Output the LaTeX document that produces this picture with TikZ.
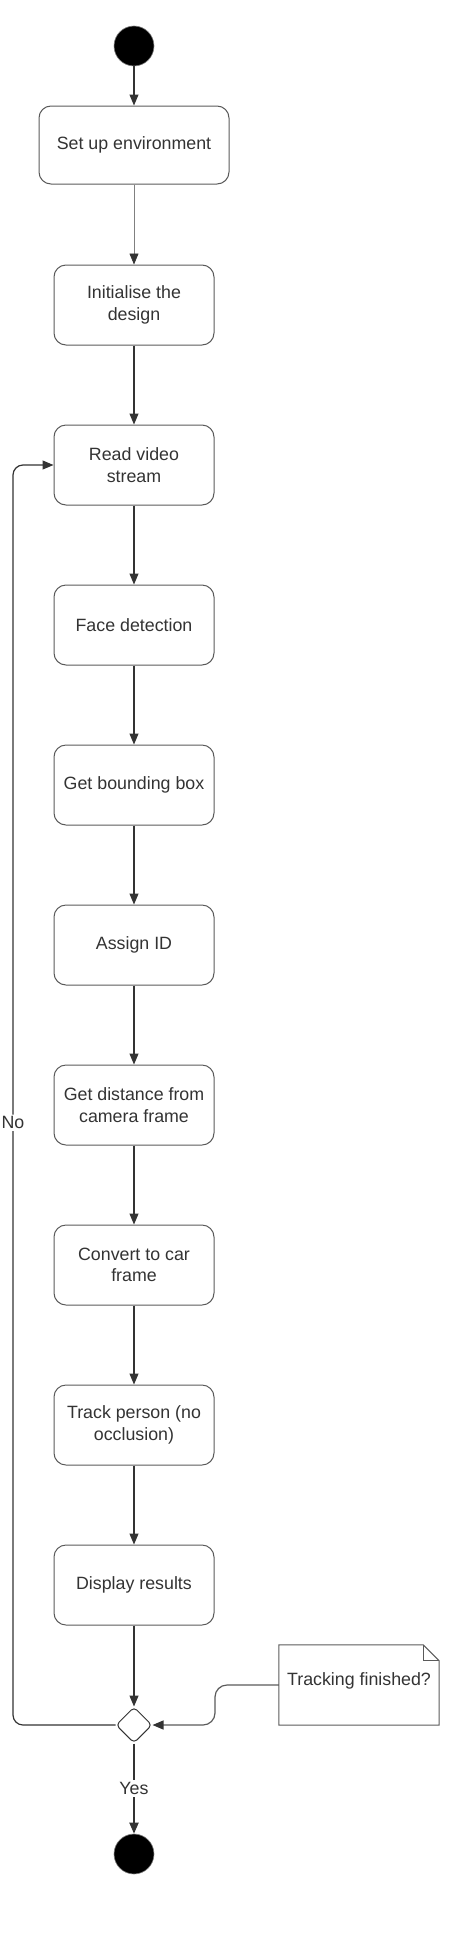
\documentclass[tikz,border=0pt]{standalone}
\usepackage{fontspec}
\setmainfont{Liberation Sans}
\usetikzlibrary{arrows.meta,shapes.geometric}
\definecolor{txt}{HTML}{333333}
\definecolor{ln}{HTML}{333333}
\definecolor{bd}{HTML}{5A5A5A}
\begin{document}
\begin{tikzpicture}[x=1pt,y=-1pt,
  act/.style={draw=bd,line width=1pt,rounded corners=12pt,minimum width=160pt,minimum height=80pt,align=center,text=txt,font=\fontsize{17.8}{21.5}\selectfont,inner sep=2pt},
  blob/.style={circle,fill=black,draw=gray,line width=0.6pt,minimum size=40pt,inner sep=0pt},
  flow/.style={draw=ln,line width=1.2pt,-{Triangle[length=11pt,width=9pt,color=ln]}},
  lbl/.style={fill=white,text=txt,font=\fontsize{17.8}{21.5}\selectfont,inner sep=2pt}
]
\useasboundingbox (0,0) rectangle (475,1938);
\node[blob] (start) at (134,46) {};
\node[act,minimum width=190pt,minimum height=78pt] (s1) at (134,145) {Set up environment};
\node[act] (s2) at (134,305) {Initialise the\\design};
\node[act] (s3) at (134,465) {Read video\\stream};
\node[act] (s4) at (134,625) {Face detection};
\node[act] (s5) at (134,785) {Get bounding box};
\node[act] (s6) at (134,945) {Assign ID};
\node[act] (s7) at (134,1105) {Get distance from\\camera frame};
\node[act] (s8) at (134,1265) {Convert to car\\frame};
\node[act] (s9) at (134,1425) {Track person (no\\occlusion)};
\node[act] (s10) at (134,1585) {Display results};
\node[diamond,draw=ln,line width=1pt,rounded corners=4pt,minimum size=36pt,inner sep=0pt,fill=white] (dec) at (134,1725) {};
\node[blob] (end) at (134,1854) {};
\node[minimum width=160pt,minimum height=80pt,inner sep=0pt] (note) at (359,1685) {};
\draw[draw=bd,line width=1pt] (note.south west) -- (note.north west) -- ([xshift=-16pt]note.north east) -- ([yshift=-16pt]note.north east) -- (note.south east) -- cycle;
\draw[draw=bd,line width=1pt] ([xshift=-16pt]note.north east) -- ([xshift=-16pt,yshift=-16pt]note.north east) -- ([yshift=-16pt]note.north east);
\node[text=txt,font=\fontsize{17.8}{21.5}\selectfont] (notetext) at (359,1681) {Tracking finished?};

\draw[flow] (start) -- (s1);
\draw[flow,draw=gray,line width=0.7pt] (s1) -- (s2);
\draw[flow] (s2) -- (s3);
\draw[flow] (s3) -- (s4);
\draw[flow] (s4) -- (s5);
\draw[flow] (s5) -- (s6);
\draw[flow] (s6) -- (s7);
\draw[flow] (s7) -- (s8);
\draw[flow] (s8) -- (s9);
\draw[flow] (s9) -- (s10);
\draw[flow] (s10) -- (dec);
\draw[flow,line width=1.8pt] (dec) -- node[lbl] {Yes} (end);
\draw[flow,rounded corners=10pt] (dec.west) -- (13,1725) -- node[lbl,pos=0.478] {No} (13,465) -- (s3.west);
\draw[flow,draw=bd,rounded corners=12pt] (note.west) -- (215,1685) -- (215,1725) -- (dec.east);
\end{tikzpicture}
\end{document}
